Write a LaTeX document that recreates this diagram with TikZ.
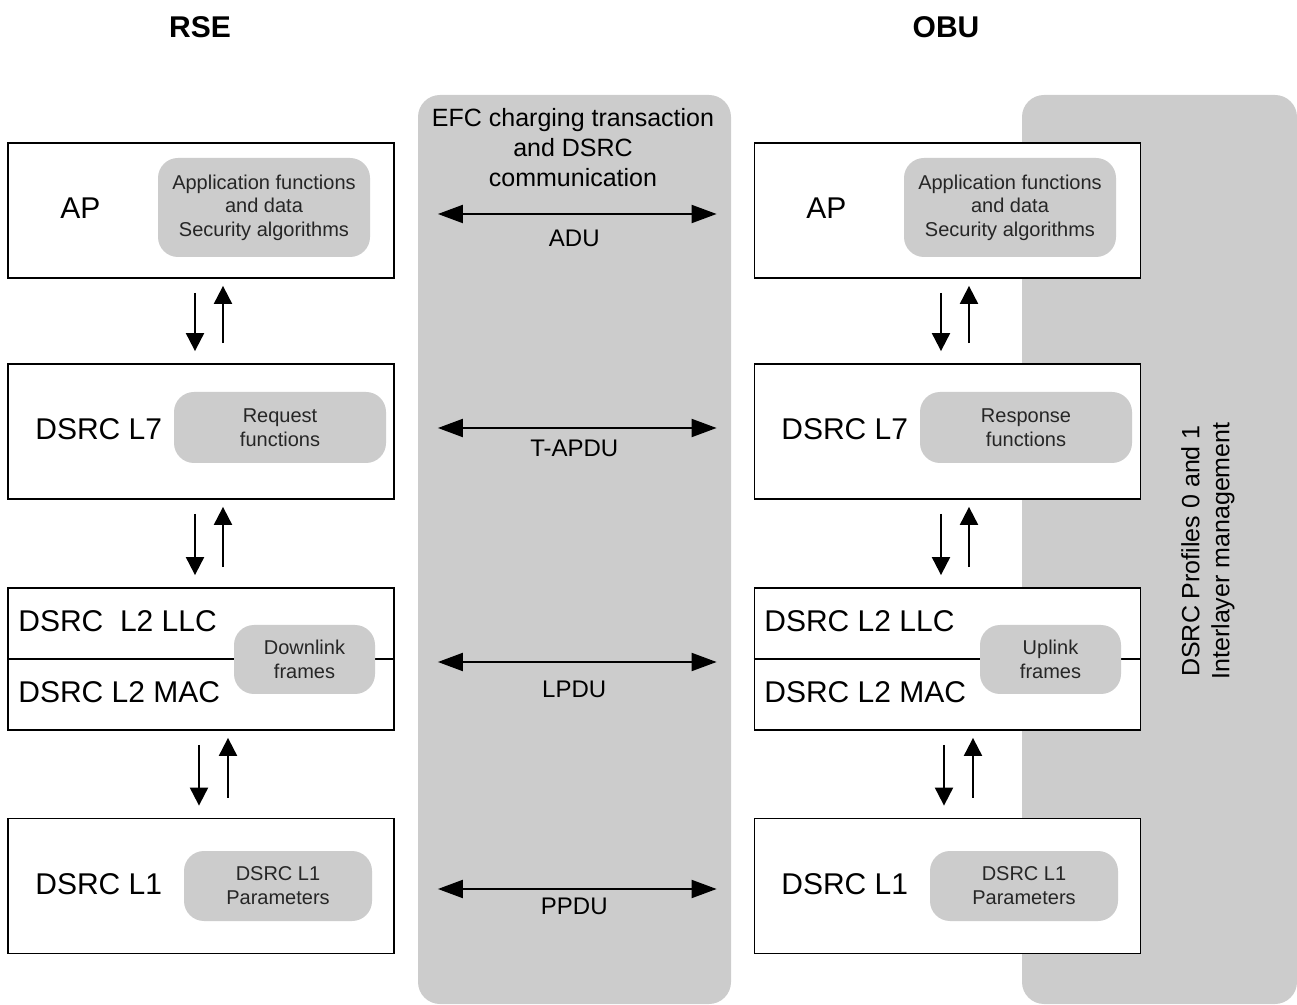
\documentclass[tikz,border=0pt]{standalone}
\usepackage{fontspec}
\setmainfont{Liberation Sans}
\usetikzlibrary{arrows.meta}
\definecolor{panel}{HTML}{CCCCCC}
\tikzset{
  layer/.style={draw, fill=white, line width=0.9pt, minimum width=193pt, minimum height=67.5pt, inner sep=0pt},
  func/.style={fill=panel, rounded corners=10pt, align=center, inner sep=0pt, text=black!85, font=\fontsize{10}{11.75}\selectfont},
  lyrlabel/.style={anchor=west, inner sep=0pt, font=\fontsize{15}{18}\selectfont},
  flow/.style={-{Triangle[length=9pt, width=9pt]}, line width=1pt},
  pdu/.style={{Triangle[length=12.5pt, width=9pt]}-{Triangle[length=12.5pt, width=9pt]}, line width=1pt}
}

\begin{document}
\begin{tikzpicture}[x=0.5pt, y=-0.5pt]
    \useasboundingbox (0,0) rectangle (1297,1005);
    \path [fill=panel, rounded corners=11pt] (418,95) rectangle (731,1004) (1022,95) rectangle (1297,1004);
    \node [font=\bfseries\fontsize{15}{18}\selectfont] (rse-title) at (200,27) {RSE};
    \node [font=\bfseries\fontsize{15}{18}\selectfont] (obu-title) at (946,27) {OBU};
    \node [align=center, font=\fontsize{12.5}{15}\selectfont] (efc) at (573,148) {EFC charging transaction\\and DSRC\\communication};
    \node [rotate=90, align=center, font=\fontsize{12.5}{15}\selectfont] (profiles) at (1208,551) {DSRC Profiles 0 and 1\\Interlayer management};
    % layer stacks, RSE left and OBU right
    \foreach \side/\x in {rse/201, obu/947.5} {
      \node [layer] (\side-ap) at (\x,210.5) {};
      \node [layer] (\side-l7) at (\x,431.5) {};
      \node [layer, minimum height=71pt] (\side-l2) at (\x,659) {};
      \node [layer] (\side-l1) at (\x,886) {};
      \draw [line width=0.9pt] (\side-l2.west) -- (\side-l2.east);
    }
    \foreach \side/\dx/\fn/\fr/\llc in {rse/0/Request/Downlink/{DSRC\ \ L2 LLC}, obu/746/Response/Uplink/{DSRC L2 LLC}} {
      \node [lyrlabel] (\side-apname) at (60+\dx,208) {AP};
      \node [lyrlabel] (\side-l7name) at (35+\dx,429) {DSRC L7};
      \node [lyrlabel] (\side-llcname) at (18+\dx,621) {\llc};
      \node [lyrlabel] (\side-macname) at (18+\dx,692) {DSRC L2 MAC};
      \node [lyrlabel] (\side-l1name) at (35+\dx,884) {DSRC L1};
      \node [func, minimum width=106pt, minimum height=49.5pt] (\side-apfunc) at (264+\dx,207.5) {Application functions\\and data\\Security algorithms};
      \node [func, minimum width=106pt, minimum height=35.5pt, font=\fontsize{10}{12}\selectfont] (\side-l7func) at (280+\dx,427.5) {\fn\\functions};
      \node [func, minimum width=70.5pt, minimum height=34.5pt, font=\fontsize{10}{12}\selectfont] (\side-l2func) at (304.5+\dx,659.5) {\fr\\frames};
      \node [func, minimum width=94pt, minimum height=35pt, font=\fontsize{10}{12}\selectfont] (\side-l1func) at (278+\dx,886) {DSRC L1\\Parameters};
    }
    % service primitives between layers
    \foreach \up/\lo/\dd/\du in {rse-ap/rse-l7/-3/11, rse-l7/rse-l2/-3/11, rse-l2/rse-l1/-1/13.5, obu-ap/obu-l7/-3.25/10.75, obu-l7/obu-l2/-3.25/10.75, obu-l2/obu-l1/-1.75/12.75} {
      \draw [flow, shorten <=7pt, shorten >=6pt] ([xshift=\dd pt]\up.south) -- ([xshift=\dd pt]\lo.north);
      \draw [flow, shorten <=10pt, shorten >=3.5pt] ([xshift=\du pt]\lo.north) -- ([xshift=\du pt]\up.south);
    }
    % peer to peer data units
    \foreach \a/\b/\dy/\lbl/\gap in {rse-ap/obu-ap/-1.75/ADU/7.7, rse-l7/obu-l7/1.75/T-APDU/5.7, rse-l2/obu-l2/-1.5/LPDU/9.2, rse-l1/obu-l1/-1.5/PPDU/4.2}
      \draw [pdu, shorten <=21.5pt, shorten >=18.5pt] ([yshift=\dy pt]\a.east) -- ([yshift=\dy pt]\b.west) node [midway, below=\gap pt, inner sep=0pt, font=\fontsize{12}{14}\selectfont] {\lbl};
\end{tikzpicture}
\end{document}
